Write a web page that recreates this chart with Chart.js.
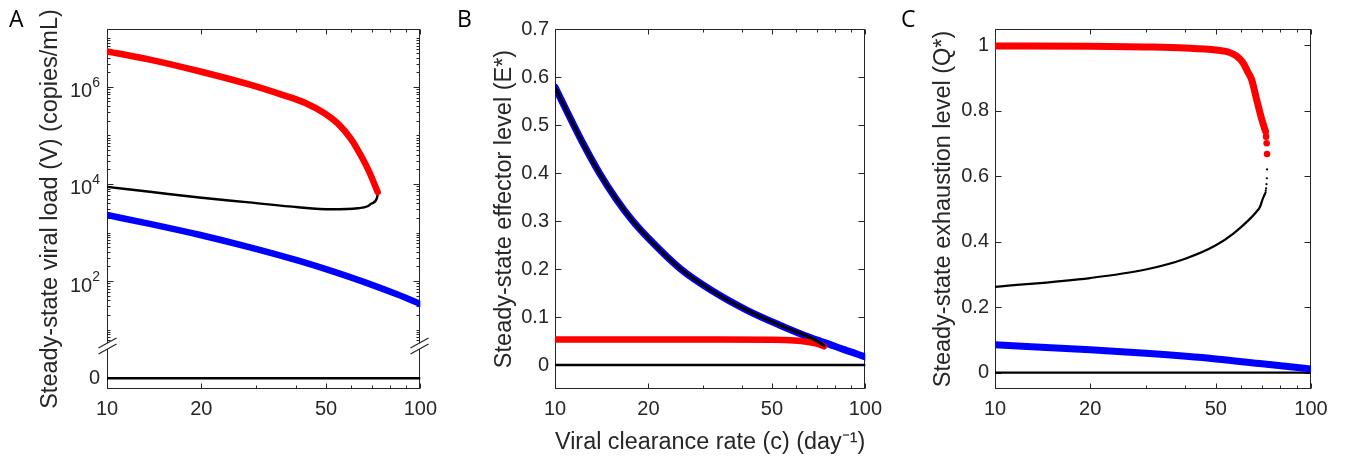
<!DOCTYPE html>
<html>
<head>
<meta charset="utf-8">
<script src="https://cdn.jsdelivr.net/npm/chart.js@4.4.1/dist/chart.umd.min.js"></script>
<style>
  body { margin: 0; background: #fff; width: 1345px; height: 459px; position: relative; overflow: hidden; }
  canvas { position: absolute; top: 0; }
  .letter { position: absolute; top: 7px; font-family: 'Open Sans', sans-serif; font-size: 23px; line-height: 1; color: #000; z-index: 2; }
</style>
</head>
<body>
<canvas id="chartA" width="445" height="459" style="left:0px"></canvas>
<canvas id="chartB" width="445" height="459" style="left:445px"></canvas>
<canvas id="chartC" width="455" height="459" style="left:890px"></canvas>
<div class="letter" style="left:9px">A</div>
<div class="letter" style="left:457px">B</div>
<div class="letter" style="left:901px">C</div>
<script>
// x axis: viral clearance rate c (day^-1), log scale
const X_TICKS = [10, 20, 30, 40, 50, 60, 70, 80, 90, 100];
const X_LABELS = [10, 20, 50, 100];

// ---- panel A: steady-state viral load (copies/mL) ----
const cA_red = [10, 13.7, 19.7, 28.4, 36.1, 42.8, 49.6, 54.6, 60.2, 64.7, 68.8, 73.1];
const vA_red = [5.37e6, 3.63e6, 2.09e6, 1.12e6, 6.9e5, 4.68e5, 2.82e5, 1.74e5, 8.3e4, 3.8e4, 1.74e4, 6.8e3];
const cA_black = [10, 13.7, 19.7, 28.4, 40.8, 52, 63.2, 67.9, 69.6, 72.8, 73.1];
const vA_black = [8700, 6900, 5250, 4170, 3310, 3020, 3160, 3470, 3890, 5250, 6300];
const cA_blue = [10, 13.7, 19.7, 28.4, 40.8, 52, 66.3, 84.6, 100];
const vA_blue = [2290, 1510, 900, 500, 263, 162, 95, 52.7, 33.9];
const cA_zero = [10, 100];
const vA_zero = [0, 0];
const A_TICKS = [1, 100, 1e4, 1e6];
const A_BASES = ['0', '10', '10', '10'];
const A_EXPS = ['', '2', '4', '6'];
const A_ZERO_AT = 1;      // where the "0" level sits on the broken log axis
const A_BREAK_AT = 4.6;   // position of the // axis break

// ---- panel B: steady-state effector level (E*) ----
const cB_red = [10, 30, 50, 55, 62, 67, 71, 73.6];
const vB_red = [0.053, 0.053, 0.0525, 0.052, 0.050, 0.047, 0.043, 0.039];
const cB_blue = [10, 12.3, 13.9, 15.7, 17.7, 20, 25.4, 32.4, 41.3, 52.6, 67.1, 76, 85.5, 100];
const vB_blue = [0.579, 0.462, 0.400, 0.347, 0.302, 0.264, 0.200, 0.153, 0.115, 0.084, 0.056, 0.044, 0.032, 0.017];
const cB_black = [10, 12.3, 13.9, 15.7, 17.7, 20, 25.4, 32.4, 41.3, 52.6, 67.1, 73.6];
const vB_black = [0.579, 0.462, 0.400, 0.347, 0.302, 0.264, 0.200, 0.153, 0.115, 0.084, 0.056, 0.041];
const cB_zero = [10, 100];
const vB_zero = [0, 0];
const B_TICKS = [0, 0.1, 0.2, 0.3, 0.4, 0.5, 0.6, 0.7];

// ---- panel C: steady-state exhaustion level (Q*) ----
const cC_red = [10, 20, 30, 40, 50, 55, 58, 61, 63, 64.9, 67.3, 69.0, 70.3, 71.5];
const vC_red = [0.998, 0.997, 0.995, 0.992, 0.986, 0.979, 0.968, 0.946, 0.92, 0.895, 0.834, 0.793, 0.765, 0.742];
const cC_redDots = [71.9, 72.1, 72.4, 72.6];
const vC_redDots = [0.736, 0.721, 0.701, 0.668];
const cC_black = [10, 20, 30, 40, 50, 56.8, 63.5, 67, 69, 70, 71, 71.8];
const vC_black = [0.262, 0.289, 0.315, 0.348, 0.389, 0.425, 0.466, 0.49, 0.507, 0.525, 0.54, 0.55];
const cC_blackDots = [71.9, 72.1, 72.3, 72.5, 72.6];
const vC_blackDots = [0.556, 0.563, 0.576, 0.594, 0.621];
const cC_blue = [10, 20, 30, 50, 70, 100];
const vC_blue = [0.085, 0.070, 0.059, 0.042, 0.027, 0.011];
const cC_zero = [10, 100];
const vC_zero = [0, 0];
const C_TICKS = [0, 0.2, 0.4, 0.6, 0.8, 1];

const RED = '#ff0000', BLUE = '#0000ff', BLACK = '#000000';
const AXIS = '#262626';
const FONT = "'Liberation Sans', Arial, sans-serif";

function pts(cs, vs) {
  return cs.map((c, i) => ({x: c, y: vs[i]}));
}

function line(data, color, width, order) {
  return {data, borderColor: color, backgroundColor: color, borderWidth: width, order,
          pointRadius: 0, cubicInterpolationMode: 'monotone', borderCapStyle: 'round', borderJoinStyle: 'round'};
}

function dots(data, color, r, order) {
  return {data, showLine: false, pointRadius: r, pointBorderWidth: 0,
          pointBackgroundColor: color, borderColor: color, order};
}

// box, inward tick marks, axis break and 10^n labels, MATLAB style
const boxTicks = {
  id: 'boxTicks',
  beforeDatasetsDraw(chart, args, o) {
    const {ctx, chartArea: a, scales: {x, y}} = chart;
    ctx.save();
    ctx.strokeStyle = AXIS;
    ctx.lineWidth = 1;
    const L = Math.round(a.left) + 0.5, R = Math.round(a.right) - 0.5;
    const T = Math.round(a.top) + 0.5, B = Math.round(a.bottom) - 0.5;
    ctx.strokeRect(L, T, R - L, B - T);
    ctx.beginPath();
    X_TICKS.forEach(v => {
      const px = Math.round(x.getPixelForValue(v)) + 0.5;
      const len = X_LABELS.includes(v) ? 5 : 3;
      ctx.moveTo(px, B); ctx.lineTo(px, B - len);
      ctx.moveTo(px, T); ctx.lineTo(px, T + len);
    });
    (o.yMajor || []).forEach(v => {
      const py = Math.round(y.getPixelForValue(v)) + 0.5;
      ctx.moveTo(L, py); ctx.lineTo(L + 6, py);
      ctx.moveTo(R, py); ctx.lineTo(R - 6, py);
    });
    (o.yMinor || []).forEach(v => {
      const py = Math.round(y.getPixelForValue(v)) + 0.5;
      ctx.moveTo(L, py); ctx.lineTo(L + 3, py);
      ctx.moveTo(R, py); ctx.lineTo(R - 3, py);
    });
    ctx.stroke();
    if (o.breakAt) {
      const py = y.getPixelForValue(o.breakAt);
      ctx.lineWidth = 1.2;
      [L, R].forEach(px => {
        ctx.fillStyle = '#fff';
        ctx.fillRect(px - 2, py - 3, 4, 6);
        ctx.beginPath();
        [-3, 3].forEach(d => {
          ctx.moveTo(px - 9, py + d + 5);
          ctx.lineTo(px + 9, py + d - 5);
        });
        ctx.stroke();
      });
    }
    if (o.bases) {
      ctx.fillStyle = AXIS;
      ctx.textBaseline = 'middle';
      const xr = a.left - 7;
      o.yMajor.forEach((v, i) => {
        const py = y.getPixelForValue(v);
        const exp = o.exps[i];
        ctx.font = '14px ' + FONT;
        const ew = exp ? ctx.measureText(exp).width : 0;
        if (exp) {
          ctx.textAlign = 'left';
          ctx.fillText(exp, xr - ew, py - 4);
        }
        ctx.font = '20px ' + FONT;
        ctx.textAlign = 'right';
        ctx.fillText(o.bases[i], xr - ew, exp ? py + 5 : py);
      });
    }
    ctx.restore();
  }
};

function makeChart(id, p) {
  return new Chart(document.getElementById(id), {
    type: 'line',
    data: {datasets: p.datasets},
    options: {
      responsive: false,
      animation: false,
      events: [],
      layout: {padding: {left: p.padLeft, right: p.padRight, top: 29, bottom: 0}},
      plugins: {
        legend: {display: false},
        tooltip: {enabled: false},
        boxTicks: {yMajor: p.yTicks, yMinor: p.yMinor, breakAt: p.breakAt, bases: p.bases, exps: p.exps}
      },
      scales: {
        x: {
          type: 'logarithmic', min: 10, max: 100,
          grid: {display: false, drawTicks: false},
          border: {display: false},
          afterBuildTicks: s => { s.ticks = X_TICKS.map(v => ({value: v})); },
          afterFit: s => { s.height = 70; },
          ticks: {autoSkip: false, maxRotation: 0, padding: 8, color: AXIS,
                  font: {family: FONT, size: 20},
                  callback: v => X_LABELS.includes(v) ? String(v) : ''},
          title: p.xTitle ? {display: true, text: p.xTitle, color: AXIS,
                             font: {family: FONT, size: 23.5}, padding: {top: 0, bottom: 2}} : {display: false}
        },
        y: {
          type: p.yType, min: p.yMin, max: p.yMax,
          grid: {display: false, drawTicks: false},
          border: {display: false},
          afterBuildTicks: s => { s.ticks = p.yTicks.map(v => ({value: v})); },
          afterFit: s => { s.width = p.yWidth; },
          ticks: {autoSkip: false, padding: 6, color: AXIS, font: {family: FONT, size: 20},
                  callback: p.yLabel},
          title: {display: true, text: p.yTitle, color: AXIS,
                  font: {family: FONT, size: 23.5}, padding: {top: 0, bottom: 0}}
        }
      }
    },
    plugins: [boxTicks]
  });
}

// log minor ticks above the break
const aMinor = [];
for (let n = 0; n <= 7; n++) {
  for (let k = 1; k <= 9; k++) {
    const v = k * Math.pow(10, n);
    if (v > 5 && v < 1.55e7 && !A_TICKS.includes(v)) aMinor.push(v);
  }
}

makeChart('chartA', {
  padLeft: 36, padRight: 22, yWidth: 71,
  yType: 'logarithmic', yMin: 0.62, yMax: 1.55e7,
  yTicks: A_TICKS, yMinor: aMinor, breakAt: A_BREAK_AT,
  bases: A_BASES, exps: A_EXPS,
  yLabel: () => '',
  yTitle: 'Steady-state viral load (V) (copies/mL)',
  datasets: [
    line(pts(cA_red, vA_red), RED, 6.5, 1),
    line(pts(cA_black, vA_black), BLACK, 2.4, 2),
    line(pts(cA_blue, vA_blue), BLUE, 6.5, 3),
    line(pts(cA_zero, vA_zero.map(v => v === 0 ? A_ZERO_AT : v)), BLACK, 2.4, 4)
  ]
});

makeChart('chartB', {
  padLeft: 45, padRight: 18, yWidth: 65,
  yType: 'linear', yMin: -0.05, yMax: 0.7,
  yTicks: B_TICKS,
  yLabel: v => String(v),
  yTitle: 'Steady-state effector level (E*)',
  xTitle: 'Viral clearance rate (c) (day\u207b\u00b9)',
  datasets: [
    line(pts(cB_black, vB_black), BLACK, 3.2, 1),
    line(pts(cB_red, vB_red), RED, 6.5, 2),
    line(pts(cB_blue, vB_blue), BLUE, 7, 3),
    line(pts(cB_zero, vB_zero), BLACK, 2.4, 4)
  ]
});

makeChart('chartC', {
  padLeft: 39, padRight: 34, yWidth: 66,
  yType: 'linear', yMin: -0.05, yMax: 1.05,
  yTicks: C_TICKS,
  yLabel: v => String(v),
  yTitle: 'Steady-state exhaustion level (Q*)',
  datasets: [
    line(pts(cC_red, vC_red), RED, 7, 1),
    dots(pts(cC_redDots, vC_redDots), RED, 3.3, 1),
    line(pts(cC_black, vC_black), BLACK, 2.2, 2),
    dots(pts(cC_blackDots, vC_blackDots), BLACK, 1.1, 2),
    line(pts(cC_blue, vC_blue), BLUE, 7, 3),
    line(pts(cC_zero, vC_zero), BLACK, 2.4, 4)
  ]
});
</script>
</body>
</html>
